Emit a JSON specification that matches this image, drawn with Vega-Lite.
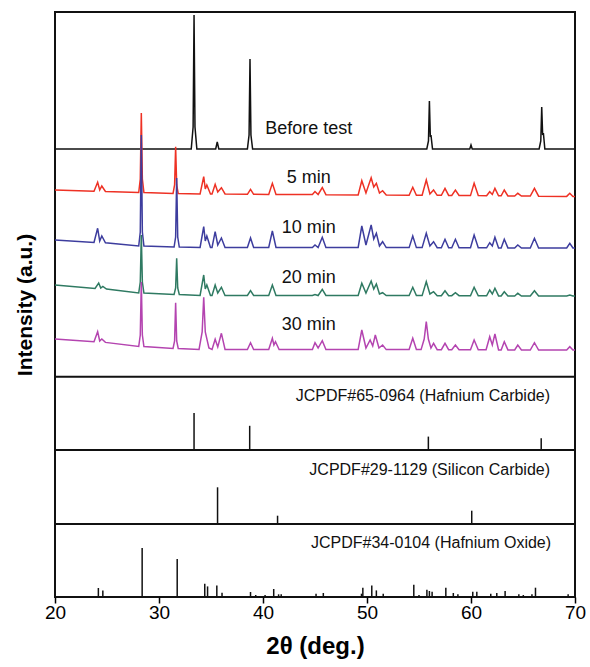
{
"$schema": "https://vega.github.io/schema/vega-lite/v6.json",
"width": 520, "height": 585,
"autosize": {"type": "none"},
"padding": {"left": 55, "top": 12, "right": 15, "bottom": 70},
"config": {"font": "Liberation Sans", "view": {"stroke": "#111", "strokeWidth": 2}},
"datasets": {
"traces": [
{"s":"Before test","x":20,"y":448},{"s":"Before test","x":33.1,"y":448},{"s":"Before test","x":33.28,"y":470},{"s":"Before test","x":33.37,"y":582},{"s":"Before test","x":33.46,"y":470},{"s":"Before test","x":33.64,"y":448},{"s":"Before test","x":35.45,"y":448},{"s":"Before test","x":35.6,"y":455},{"s":"Before test","x":35.75,"y":448},{"s":"Before test","x":38.5,"y":448},{"s":"Before test","x":38.66,"y":462},{"s":"Before test","x":38.75,"y":538},{"s":"Before test","x":38.84,"y":462},{"s":"Before test","x":39.0,"y":448},{"s":"Before test","x":55.75,"y":448},{"s":"Before test","x":55.91,"y":456},{"s":"Before test","x":56.0,"y":496},{"s":"Before test","x":56.09,"y":460},{"s":"Before test","x":56.15,"y":462},{"s":"Before test","x":56.3,"y":448},{"s":"Before test","x":59.88,"y":448},{"s":"Before test","x":60.0,"y":452},{"s":"Before test","x":60.12,"y":448},{"s":"Before test","x":66.55,"y":448},{"s":"Before test","x":66.71,"y":456},{"s":"Before test","x":66.8,"y":490},{"s":"Before test","x":66.89,"y":462},{"s":"Before test","x":66.96,"y":464},{"s":"Before test","x":67.1,"y":448},{"s":"Before test","x":70,"y":448},
{"s":"5 min","x":20,"y":407},{"s":"5 min","x":23.75,"y":405.8},{"s":"5 min","x":24.1,"y":414.7},{"s":"5 min","x":24.3,"y":407},{"s":"5 min","x":24.5,"y":411},{"s":"5 min","x":24.85,"y":405.5},{"s":"5 min","x":28.05,"y":404.4},{"s":"5 min","x":28.2,"y":418},{"s":"5 min","x":28.3,"y":484},{"s":"5 min","x":28.4,"y":418},{"s":"5 min","x":28.55,"y":404.4},{"s":"5 min","x":31.35,"y":403.5},{"s":"5 min","x":31.5,"y":412},{"s":"5 min","x":31.6,"y":450.3},{"s":"5 min","x":31.7,"y":412},{"s":"5 min","x":31.85,"y":403.4},{"s":"5 min","x":33.95,"y":403},{"s":"5 min","x":34.3,"y":420.3},{"s":"5 min","x":34.45,"y":408},{"s":"5 min","x":34.6,"y":412},{"s":"5 min","x":34.95,"y":403},{"s":"5 min","x":35.1,"y":403},{"s":"5 min","x":35.4,"y":412.7},{"s":"5 min","x":35.65,"y":405},{"s":"5 min","x":36.0,"y":409.3},{"s":"5 min","x":36.35,"y":403},{"s":"5 min","x":38.5,"y":402.7},{"s":"5 min","x":38.8,"y":407.7},{"s":"5 min","x":39.1,"y":402.7},{"s":"5 min","x":40.55,"y":402.6},{"s":"5 min","x":40.9,"y":413.7},{"s":"5 min","x":41.25,"y":402.6},{"s":"5 min","x":44.75,"y":402.4},{"s":"5 min","x":45.0,"y":405.5},{"s":"5 min","x":45.3,"y":402.5},{"s":"5 min","x":45.7,"y":409.5},{"s":"5 min","x":46.05,"y":402.3},{"s":"5 min","x":49.15,"y":402},{"s":"5 min","x":49.5,"y":416.3},{"s":"5 min","x":49.9,"y":404},{"s":"5 min","x":50.4,"y":419.3},{"s":"5 min","x":50.65,"y":410},{"s":"5 min","x":50.9,"y":413.7},{"s":"5 min","x":51.2,"y":404},{"s":"5 min","x":51.5,"y":406.3},{"s":"5 min","x":51.85,"y":401.9},{"s":"5 min","x":54.05,"y":401.8},{"s":"5 min","x":54.4,"y":409.7},{"s":"5 min","x":54.75,"y":401.8},{"s":"5 min","x":55.3,"y":401.8},{"s":"5 min","x":55.7,"y":417},{"s":"5 min","x":56.05,"y":403},{"s":"5 min","x":56.4,"y":407},{"s":"5 min","x":56.75,"y":401.7},{"s":"5 min","x":57.15,"y":401.7},{"s":"5 min","x":57.5,"y":408.7},{"s":"5 min","x":57.85,"y":401.6},{"s":"5 min","x":58.15,"y":401.6},{"s":"5 min","x":58.5,"y":407},{"s":"5 min","x":58.85,"y":401.5},{"s":"5 min","x":59.95,"y":401.4},{"s":"5 min","x":60.3,"y":413.7},{"s":"5 min","x":60.7,"y":401.4},{"s":"5 min","x":61.5,"y":401.3},{"s":"5 min","x":61.8,"y":405.3},{"s":"5 min","x":62.05,"y":402.5},{"s":"5 min","x":62.3,"y":408.7},{"s":"5 min","x":62.65,"y":401.2},{"s":"5 min","x":62.9,"y":401.2},{"s":"5 min","x":63.2,"y":407},{"s":"5 min","x":63.55,"y":401.1},{"s":"5 min","x":64.2,"y":401},{"s":"5 min","x":64.5,"y":403.7},{"s":"5 min","x":64.85,"y":401},{"s":"5 min","x":65.7,"y":400.9},{"s":"5 min","x":66.1,"y":408.7},{"s":"5 min","x":66.5,"y":400.8},{"s":"5 min","x":69.2,"y":400.6},{"s":"5 min","x":69.5,"y":403.7},{"s":"5 min","x":69.8,"y":400.5},{"s":"5 min","x":70,"y":400.5},
{"s":"10 min","x":20,"y":357},{"s":"10 min","x":23.75,"y":354.6},{"s":"10 min","x":24.1,"y":368.7},{"s":"10 min","x":24.3,"y":356},{"s":"10 min","x":24.5,"y":361},{"s":"10 min","x":24.85,"y":354.2},{"s":"10 min","x":28.05,"y":351},{"s":"10 min","x":28.2,"y":365},{"s":"10 min","x":28.3,"y":462},{"s":"10 min","x":28.4,"y":365},{"s":"10 min","x":28.55,"y":351},{"s":"10 min","x":31.45,"y":350},{"s":"10 min","x":31.6,"y":360},{"s":"10 min","x":31.7,"y":419},{"s":"10 min","x":31.8,"y":360},{"s":"10 min","x":31.95,"y":350},{"s":"10 min","x":33.95,"y":349.5},{"s":"10 min","x":34.3,"y":370.3},{"s":"10 min","x":34.45,"y":356},{"s":"10 min","x":34.6,"y":361},{"s":"10 min","x":34.95,"y":349.5},{"s":"10 min","x":35.1,"y":349.5},{"s":"10 min","x":35.4,"y":365.3},{"s":"10 min","x":35.65,"y":352},{"s":"10 min","x":36.0,"y":359},{"s":"10 min","x":36.35,"y":349.5},{"s":"10 min","x":38.5,"y":349.5},{"s":"10 min","x":38.8,"y":359},{"s":"10 min","x":39.1,"y":349.5},{"s":"10 min","x":40.55,"y":349.5},{"s":"10 min","x":40.9,"y":366},{"s":"10 min","x":41.25,"y":349.5},{"s":"10 min","x":44.75,"y":349.5},{"s":"10 min","x":45.0,"y":352},{"s":"10 min","x":45.3,"y":349.5},{"s":"10 min","x":45.7,"y":359.7},{"s":"10 min","x":46.05,"y":349.5},{"s":"10 min","x":49.15,"y":349.5},{"s":"10 min","x":49.5,"y":371},{"s":"10 min","x":49.9,"y":352},{"s":"10 min","x":50.4,"y":372},{"s":"10 min","x":50.65,"y":358},{"s":"10 min","x":50.9,"y":363.7},{"s":"10 min","x":51.2,"y":351},{"s":"10 min","x":51.5,"y":355.3},{"s":"10 min","x":51.85,"y":349.4},{"s":"10 min","x":54.05,"y":349.4},{"s":"10 min","x":54.4,"y":361},{"s":"10 min","x":54.75,"y":349.4},{"s":"10 min","x":55.3,"y":349.4},{"s":"10 min","x":55.7,"y":363.7},{"s":"10 min","x":56.05,"y":351},{"s":"10 min","x":56.4,"y":355.3},{"s":"10 min","x":56.75,"y":349.3},{"s":"10 min","x":57.15,"y":349.3},{"s":"10 min","x":57.5,"y":357.7},{"s":"10 min","x":57.85,"y":349.3},{"s":"10 min","x":58.15,"y":349.3},{"s":"10 min","x":58.5,"y":357.7},{"s":"10 min","x":58.85,"y":349.3},{"s":"10 min","x":59.95,"y":349.2},{"s":"10 min","x":60.3,"y":362},{"s":"10 min","x":60.7,"y":349.2},{"s":"10 min","x":61.5,"y":349.2},{"s":"10 min","x":61.8,"y":354.3},{"s":"10 min","x":62.05,"y":351},{"s":"10 min","x":62.3,"y":359.7},{"s":"10 min","x":62.65,"y":349.1},{"s":"10 min","x":62.9,"y":349.1},{"s":"10 min","x":63.2,"y":357.7},{"s":"10 min","x":63.55,"y":349.1},{"s":"10 min","x":64.2,"y":349},{"s":"10 min","x":64.5,"y":352},{"s":"10 min","x":64.85,"y":349},{"s":"10 min","x":65.7,"y":349},{"s":"10 min","x":66.1,"y":358.7},{"s":"10 min","x":66.5,"y":349},{"s":"10 min","x":69.2,"y":349},{"s":"10 min","x":69.5,"y":353.7},{"s":"10 min","x":69.8,"y":349},{"s":"10 min","x":70,"y":349},
{"s":"20 min","x":20,"y":312},{"s":"20 min","x":23.85,"y":308.6},{"s":"20 min","x":24.2,"y":314},{"s":"20 min","x":24.4,"y":309},{"s":"20 min","x":24.6,"y":310.5},{"s":"20 min","x":24.95,"y":308},{"s":"20 min","x":28.05,"y":304},{"s":"20 min","x":28.2,"y":315},{"s":"20 min","x":28.3,"y":362},{"s":"20 min","x":28.4,"y":315},{"s":"20 min","x":28.55,"y":304},{"s":"20 min","x":31.45,"y":302.5},{"s":"20 min","x":31.6,"y":309},{"s":"20 min","x":31.7,"y":338.7},{"s":"20 min","x":31.8,"y":309},{"s":"20 min","x":31.95,"y":302.5},{"s":"20 min","x":33.95,"y":301.6},{"s":"20 min","x":34.3,"y":322},{"s":"20 min","x":34.45,"y":308},{"s":"20 min","x":34.6,"y":312},{"s":"20 min","x":34.95,"y":301.5},{"s":"20 min","x":35.1,"y":301.5},{"s":"20 min","x":35.4,"y":312},{"s":"20 min","x":35.65,"y":304},{"s":"20 min","x":36.0,"y":309.7},{"s":"20 min","x":36.35,"y":301.5},{"s":"20 min","x":38.5,"y":301.5},{"s":"20 min","x":38.8,"y":306.3},{"s":"20 min","x":39.1,"y":301.5},{"s":"20 min","x":40.55,"y":301.5},{"s":"20 min","x":40.9,"y":312},{"s":"20 min","x":41.25,"y":301.5},{"s":"20 min","x":44.75,"y":301.5},{"s":"20 min","x":45.0,"y":302.5},{"s":"20 min","x":45.3,"y":301.5},{"s":"20 min","x":45.7,"y":307.7},{"s":"20 min","x":46.05,"y":301.5},{"s":"20 min","x":49.15,"y":301.5},{"s":"20 min","x":49.5,"y":313.7},{"s":"20 min","x":49.9,"y":304},{"s":"20 min","x":50.4,"y":316},{"s":"20 min","x":50.65,"y":308},{"s":"20 min","x":50.9,"y":313},{"s":"20 min","x":51.2,"y":303},{"s":"20 min","x":51.5,"y":304.3},{"s":"20 min","x":51.85,"y":301.4},{"s":"20 min","x":54.05,"y":301.4},{"s":"20 min","x":54.4,"y":309.7},{"s":"20 min","x":54.75,"y":301.4},{"s":"20 min","x":55.3,"y":301.4},{"s":"20 min","x":55.7,"y":315.3},{"s":"20 min","x":56.05,"y":303},{"s":"20 min","x":56.4,"y":305.3},{"s":"20 min","x":56.75,"y":301.3},{"s":"20 min","x":57.15,"y":301.3},{"s":"20 min","x":57.5,"y":306.3},{"s":"20 min","x":57.85,"y":301.3},{"s":"20 min","x":58.15,"y":301.3},{"s":"20 min","x":58.5,"y":304.3},{"s":"20 min","x":58.85,"y":301.3},{"s":"20 min","x":59.95,"y":301.2},{"s":"20 min","x":60.3,"y":309.7},{"s":"20 min","x":60.7,"y":301.2},{"s":"20 min","x":61.5,"y":301.2},{"s":"20 min","x":61.8,"y":307},{"s":"20 min","x":62.05,"y":303},{"s":"20 min","x":62.3,"y":308.7},{"s":"20 min","x":62.65,"y":301.1},{"s":"20 min","x":62.9,"y":301.1},{"s":"20 min","x":63.2,"y":305.3},{"s":"20 min","x":63.55,"y":301.1},{"s":"20 min","x":64.2,"y":301},{"s":"20 min","x":64.5,"y":303.7},{"s":"20 min","x":64.85,"y":301},{"s":"20 min","x":65.7,"y":301},{"s":"20 min","x":66.1,"y":306.3},{"s":"20 min","x":66.5,"y":301},{"s":"20 min","x":69.2,"y":301},{"s":"20 min","x":69.5,"y":302},{"s":"20 min","x":69.8,"y":301},{"s":"20 min","x":70,"y":301},
{"s":"30 min","x":20,"y":258},{"s":"30 min","x":23.75,"y":255.2},{"s":"30 min","x":24.1,"y":265.3},{"s":"30 min","x":24.3,"y":256},{"s":"30 min","x":24.5,"y":258},{"s":"30 min","x":24.85,"y":254.6},{"s":"30 min","x":28.05,"y":250.5},{"s":"30 min","x":28.2,"y":262},{"s":"30 min","x":28.3,"y":315},{"s":"30 min","x":28.4,"y":262},{"s":"30 min","x":28.55,"y":250.5},{"s":"30 min","x":31.35,"y":248.6},{"s":"30 min","x":31.5,"y":256},{"s":"30 min","x":31.6,"y":294.3},{"s":"30 min","x":31.7,"y":256},{"s":"30 min","x":31.85,"y":248.5},{"s":"30 min","x":33.85,"y":247.6},{"s":"30 min","x":34.15,"y":265},{"s":"30 min","x":34.3,"y":299.7},{"s":"30 min","x":34.45,"y":265},{"s":"30 min","x":34.8,"y":249},{"s":"30 min","x":35.1,"y":247.5},{"s":"30 min","x":35.4,"y":257.7},{"s":"30 min","x":35.65,"y":250},{"s":"30 min","x":36.0,"y":263.7},{"s":"30 min","x":36.35,"y":247.5},{"s":"30 min","x":38.5,"y":247.5},{"s":"30 min","x":38.8,"y":254.3},{"s":"30 min","x":39.1,"y":247.5},{"s":"30 min","x":40.55,"y":247.5},{"s":"30 min","x":40.9,"y":258.7},{"s":"30 min","x":41.05,"y":252},{"s":"30 min","x":41.2,"y":255.3},{"s":"30 min","x":41.55,"y":247.5},{"s":"30 min","x":44.75,"y":247.5},{"s":"30 min","x":45.0,"y":254.3},{"s":"30 min","x":45.3,"y":249},{"s":"30 min","x":45.7,"y":256.3},{"s":"30 min","x":46.05,"y":247.5},{"s":"30 min","x":49.15,"y":247.5},{"s":"30 min","x":49.5,"y":267},{"s":"30 min","x":49.9,"y":249},{"s":"30 min","x":50.3,"y":257},{"s":"30 min","x":50.55,"y":251},{"s":"30 min","x":50.8,"y":262},{"s":"30 min","x":51.15,"y":249},{"s":"30 min","x":51.5,"y":252},{"s":"30 min","x":51.85,"y":247.4},{"s":"30 min","x":54.05,"y":247.4},{"s":"30 min","x":54.4,"y":258.7},{"s":"30 min","x":54.75,"y":247.4},{"s":"30 min","x":55.2,"y":247.4},{"s":"30 min","x":55.5,"y":258},{"s":"30 min","x":55.7,"y":275.3},{"s":"30 min","x":55.9,"y":258},{"s":"30 min","x":56.15,"y":249},{"s":"30 min","x":56.4,"y":253.7},{"s":"30 min","x":56.75,"y":247.3},{"s":"30 min","x":57.15,"y":247.3},{"s":"30 min","x":57.5,"y":253.7},{"s":"30 min","x":57.85,"y":247.3},{"s":"30 min","x":58.15,"y":247.3},{"s":"30 min","x":58.5,"y":252},{"s":"30 min","x":58.85,"y":247.3},{"s":"30 min","x":59.95,"y":247.2},{"s":"30 min","x":60.3,"y":257},{"s":"30 min","x":60.7,"y":247.2},{"s":"30 min","x":61.45,"y":247.2},{"s":"30 min","x":61.8,"y":260.3},{"s":"30 min","x":62.05,"y":252},{"s":"30 min","x":62.3,"y":263},{"s":"30 min","x":62.65,"y":247.1},{"s":"30 min","x":62.9,"y":247.1},{"s":"30 min","x":63.2,"y":255.3},{"s":"30 min","x":63.55,"y":247.1},{"s":"30 min","x":64.2,"y":247},{"s":"30 min","x":64.5,"y":252},{"s":"30 min","x":64.85,"y":247},{"s":"30 min","x":65.7,"y":247},{"s":"30 min","x":66.1,"y":254.3},{"s":"30 min","x":66.5,"y":247},{"s":"30 min","x":69.2,"y":247},{"s":"30 min","x":69.5,"y":250.3},{"s":"30 min","x":69.8,"y":247},{"s":"30 min","x":70,"y":247}
],
"sticks": [
{"x":33.37,"y0":147,"y1":184},{"x":38.72,"y0":147,"y1":171.2},{"x":55.9,"y0":147,"y1":160.4},{"x":66.75,"y0":147,"y1":158.8},
{"x":35.63,"y0":73,"y1":109.7},{"x":41.4,"y0":73,"y1":81.3},{"x":60.07,"y0":73,"y1":86.3},
{"x":24.17,"y0":0,"y1":9},{"x":24.6,"y0":0,"y1":6.6},{"x":28.38,"y0":0,"y1":49},{"x":31.75,"y0":0,"y1":38},{"x":34.4,"y0":0,"y1":13.3},{"x":34.67,"y0":0,"y1":10.6},{"x":35.56,"y0":0,"y1":11.6},{"x":36.06,"y0":0,"y1":4.3},{"x":38.8,"y0":0,"y1":5},{"x":39.3,"y0":0,"y1":2},{"x":40.2,"y0":0,"y1":2},{"x":41.03,"y0":0,"y1":8},{"x":41.5,"y0":0,"y1":2.7},{"x":41.75,"y0":0,"y1":2.7},{"x":45.1,"y0":0,"y1":3.3},{"x":45.8,"y0":0,"y1":4},{"x":49.47,"y0":0,"y1":3.3},{"x":49.6,"y0":0,"y1":9.3},{"x":50.46,"y0":0,"y1":11.6},{"x":50.9,"y0":0,"y1":6.6},{"x":51.56,"y0":0,"y1":3.3},{"x":54.5,"y0":0,"y1":12.3},{"x":55.0,"y0":0,"y1":2},{"x":55.76,"y0":0,"y1":7.3},{"x":56.0,"y0":0,"y1":6},{"x":56.26,"y0":0,"y1":5.3},{"x":57.58,"y0":0,"y1":9.3},{"x":58.3,"y0":0,"y1":4},{"x":58.74,"y0":0,"y1":2.7},{"x":60.17,"y0":0,"y1":5.3},{"x":60.56,"y0":0,"y1":5.3},{"x":61.9,"y0":0,"y1":3.3},{"x":62.48,"y0":0,"y1":4},{"x":63.28,"y0":0,"y1":6},{"x":64.6,"y0":0,"y1":2.7},{"x":65.03,"y0":0,"y1":2},{"x":65.86,"y0":0,"y1":2.7},{"x":66.2,"y0":0,"y1":9.3},{"x":69.34,"y0":0,"y1":2.7}
],
"panels": [{"y":73},{"y":147},{"y":220.3}],
"labels": [
{"k":"trace","x":44.4,"y":468,"t":"Before test"},{"k":"trace","x":44.4,"y":419,"t":"5 min"},{"k":"trace","x":44.4,"y":369,"t":"10 min"},{"k":"trace","x":44.4,"y":319,"t":"20 min"},{"k":"trace","x":44.4,"y":272,"t":"30 min"},
{"k":"ref","x":67.6,"y":201,"t":"JCPDF#65-0964 (Hafnium Carbide)"},{"k":"ref","x":67.6,"y":127,"t":"JCPDF#29-1129 (Silicon Carbide)"},{"k":"ref","x":67.7,"y":54,"t":"JCPDF#34-0104 (Hafnium Oxide)"}
]
},
"layer": [
{"data": {"name": "traces"},
 "mark": {"type": "line", "strokeWidth": 1.5},
 "encoding": {
  "x": {"field": "x", "type": "quantitative", "scale": {"domain": [20, 70], "nice": false},
        "axis": {"values": [20, 30, 40, 50, 60, 70], "title": "2θ (deg.)", "titleFontSize": 24, "titleFontWeight": "bold", "titlePadding": 12, "titleColor": "black", "labelFontSize": 19, "labelPadding": 0, "labelColor": "black", "labelFlush": false, "tickSize": 6, "tickWidth": 1.5, "tickColor": "black", "domain": false, "grid": false}},
  "y": {"field": "y", "type": "quantitative", "scale": {"domain": [0, 585], "nice": false, "zero": false},
        "axis": {"title": "Intensity (a.u.)", "titleFontSize": 21, "titleFontWeight": "bold", "titlePadding": 20, "titleColor": "black", "labels": false, "ticks": false, "domain": false, "grid": false}},
  "color": {"field": "s", "type": "nominal", "legend": null,
            "scale": {"domain": ["Before test", "5 min", "10 min", "20 min", "30 min"], "range": ["#111111", "#ee3124", "#3d3d9e", "#2f7a62", "#b444b0"]}}
 }},
{"data": {"name": "sticks"},
 "mark": {"type": "rule", "color": "#111111", "strokeWidth": 1.5},
 "encoding": {"x": {"field": "x", "type": "quantitative"}, "y": {"field": "y0", "type": "quantitative"}, "y2": {"field": "y1"}}},
{"data": {"name": "panels"},
 "mark": {"type": "rule", "color": "#111111", "strokeWidth": 2},
 "encoding": {"y": {"field": "y", "type": "quantitative"}}},
{"data": {"name": "labels"}, "transform": [{"filter": "datum.k == 'trace'"}],
 "mark": {"type": "text", "align": "center", "baseline": "middle", "fontSize": 18, "color": "#111111"},
 "encoding": {"x": {"field": "x", "type": "quantitative"}, "y": {"field": "y", "type": "quantitative"}, "text": {"field": "t"}}},
{"data": {"name": "labels"}, "transform": [{"filter": "datum.k == 'ref'"}],
 "mark": {"type": "text", "align": "right", "baseline": "middle", "fontSize": 16, "color": "#111111"},
 "encoding": {"x": {"field": "x", "type": "quantitative"}, "y": {"field": "y", "type": "quantitative"}, "text": {"field": "t"}}}
]
}
